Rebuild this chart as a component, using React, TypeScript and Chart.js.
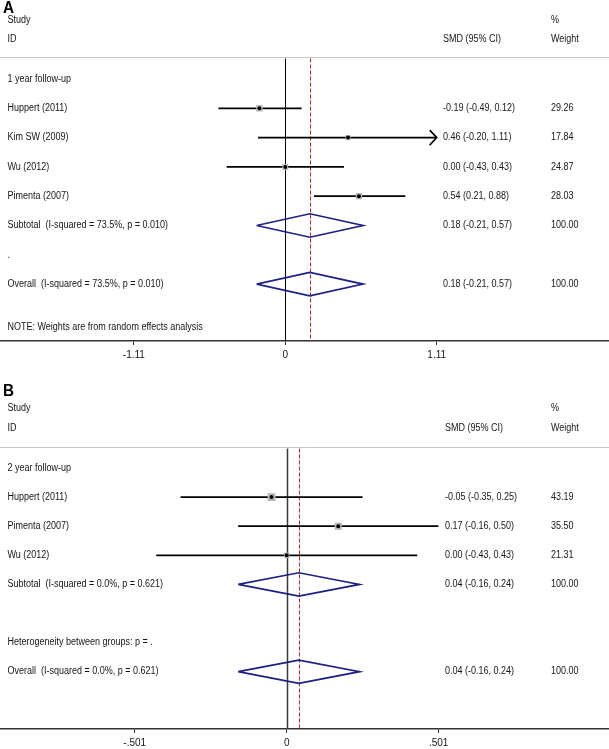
import React, { useEffect, useRef } from "react";
import { Chart, registerables } from "chart.js";

Chart.register(...registerables);

// ---------------- Panel A : 1 year follow-up ----------------
const rowLabelsA = [
  "1 year follow-up",
  "Huppert (2011)",
  "Kim SW (2009)",
  "Wu (2012)",
  "Pimenta (2007)",
  "Subtotal  (I-squared = 73.5%, p = 0.010)",
  ".",
  "Overall  (I-squared = 73.5%, p = 0.010)",
];
const studiesA = ["Huppert (2011)", "Kim SW (2009)", "Wu (2012)", "Pimenta (2007)"];
const smdA = [-0.19, 0.46, 0.0, 0.54];
const lowerA = [-0.49, -0.2, -0.43, 0.21];
const upperA = [0.12, 1.11, 0.43, 0.88];
const weightA = [29.26, 17.84, 24.87, 28.03];
const arrowA = [false, true, false, false];
// [estimate, lower, upper, weight]
const subtotalA = [0.18, -0.21, 0.57, 100.0];
const overallA = [0.18, -0.21, 0.57, 100.0];
const ticksA = [-1.11, 0, 1.11];
const tickLabelsA = ["-1.11", "0", "1.11"];
const noteA = "NOTE: Weights are from random effects analysis";

// ---------------- Panel B : 2 year follow-up ----------------
const rowLabelsB = [
  "2 year follow-up",
  "Huppert (2011)",
  "Pimenta (2007)",
  "Wu (2012)",
  "Subtotal  (I-squared = 0.0%, p = 0.621)",
  "",
  "Heterogeneity between groups: p = .",
  "Overall  (I-squared = 0.0%, p = 0.621)",
];
const studiesB = ["Huppert (2011)", "Pimenta (2007)", "Wu (2012)"];
const smdB = [-0.05, 0.17, 0.0];
const lowerB = [-0.35, -0.16, -0.43];
const upperB = [0.25, 0.5, 0.43];
const weightB = [43.19, 35.5, 21.31];
const arrowB = [false, false, false];
const subtotalB = [0.04, -0.16, 0.24, 100.0];
const overallB = [0.04, -0.16, 0.24, 100.0];
const ticksB = [-0.501, 0, 0.501];
const tickLabelsB = ["-.501", "0", ".501"];
const noteB = "";

const headerStudy = "Study";
const headerID = "ID";
const headerSMD = "SMD (95% CI)";
const headerPct = "%";
const headerWeight = "Weight";

type PanelData = {
  letter: string;
  rowLabels: string[];
  studies: string[];
  smd: number[];
  lower: number[];
  upper: number[];
  weight: number[];
  arrow: boolean[];
  subtotal: number[];
  overall: number[];
  ticks: number[];
  tickLabels: string[];
  note: string;
};

type Layout = {
  top: number;
  height: number;
  axisY: number;
  row0: number;
  rowStep: number;
  xMin: number;
  xMax: number;
  letterBase: number;
  studyRow: number;
  idRow: number;
  sepRow: number;
  noteRow: number;
  smdX: number;
  weightX: number;
  zeroColor: string;
  zeroWidth: number;
};

const FONT = '"Liberation Sans", Arial, Helvetica, sans-serif';
const TEXT_COLOR = "#151515";
const DIAMOND_COLOR = "#1e2085";
const DASH_COLOR = "#a52a2a";

const fmt = (v: number) => v.toFixed(2);

function drawText(ctx: CanvasRenderingContext2D, s: string, x: number, y: number) {
  ctx.save();
  ctx.translate(x, y);
  ctx.scale(0.9, 1);
  ctx.fillText(s, 0, 0);
  ctx.restore();
}

function buildConfig(p: PanelData, L: Layout): any {
  const rowOf = (label: string) => p.rowLabels.indexOf(label);
  const studyRows = p.studies.map(rowOf);
  const subRow = p.rowLabels.findIndex((s) => s.startsWith("Subtotal"));
  const ovRow = p.rowLabels.findIndex((s) => s.startsWith("Overall"));
  const DH = 0.4;
  const diamond = (v: number[], r: number) => [
    { x: v[1], y: r },
    { x: v[0], y: r - DH },
    { x: v[2], y: r },
    { x: v[0], y: r + DH },
    { x: v[1], y: r },
  ];

  const datasets: any[] = [
    {
      data: p.smd.map((v, i) => ({ x: v, y: studyRows[i] })),
      pointStyle: "circle",
      pointRadius: 2,
      backgroundColor: "#000",
      borderWidth: 0,
    },
    {
      data: p.smd.map((v, i) => ({ x: v, y: studyRows[i] })),
      pointStyle: "rect",
      pointRadius: (c: any) => Math.sqrt(p.weight[c.dataIndex]) * 0.85,
      backgroundColor: "#b8b8b8",
      borderWidth: 0,
    },
    ...p.smd.map((_, i) => ({
      data: [
        { x: p.lower[i], y: studyRows[i] },
        { x: p.upper[i], y: studyRows[i] },
      ],
      showLine: true,
      borderColor: "#000",
      borderWidth: 1.7,
      pointRadius: 0,
    })),
    {
      data: diamond(p.subtotal, subRow),
      showLine: true,
      borderColor: DIAMOND_COLOR,
      borderWidth: 1.7,
      pointRadius: 0,
      tension: 0,
    },
    {
      data: diamond(p.overall, ovRow),
      showLine: true,
      borderColor: DIAMOND_COLOR,
      borderWidth: 1.7,
      pointRadius: 0,
      tension: 0,
    },
  ];

  const plugin = {
    id: "forest" + p.letter,
    beforeDatasetsDraw(chart: any) {
      const { ctx, chartArea } = chart;
      const x = chart.scales.x;
      const y = chart.scales.y;
      const sepY = Math.round(y.getPixelForValue(L.sepRow)) + 0.5;
      ctx.save();
      ctx.strokeStyle = "#c8c8c8";
      ctx.lineWidth = 1;
      ctx.beginPath();
      ctx.moveTo(0, sepY);
      ctx.lineTo(chart.width, sepY);
      ctx.stroke();

      const x0 = Math.round(x.getPixelForValue(0)) + 0.5;
      ctx.strokeStyle = L.zeroColor;
      ctx.lineWidth = L.zeroWidth;
      ctx.beginPath();
      ctx.moveTo(x0, sepY + 1);
      ctx.lineTo(x0, chartArea.bottom);
      ctx.stroke();

      const xo = Math.round(x.getPixelForValue(p.overall[0])) + 0.5;
      ctx.setLineDash([4, 2]);
      ctx.strokeStyle = DASH_COLOR;
      ctx.lineWidth = 1;
      ctx.beginPath();
      ctx.moveTo(xo, sepY + 1);
      ctx.lineTo(xo, chartArea.bottom);
      ctx.stroke();
      ctx.restore();
    },
    afterDatasetsDraw(chart: any) {
      const { ctx } = chart;
      const x = chart.scales.x;
      const y = chart.scales.y;
      ctx.save();
      // arrows for truncated CIs
      ctx.strokeStyle = "#000";
      ctx.lineWidth = 1.6;
      p.arrow.forEach((a, i) => {
        if (!a) return;
        const tx = x.getPixelForValue(p.upper[i]);
        const ty = y.getPixelForValue(studyRows[i]);
        ctx.beginPath();
        ctx.moveTo(tx - 7, ty - 7.5);
        ctx.lineTo(tx, ty);
        ctx.lineTo(tx - 7, ty + 7.5);
        ctx.stroke();
      });

      // panel letter
      ctx.fillStyle = "#000";
      ctx.textBaseline = "alphabetic";
      ctx.font = `bold 17px ${FONT}`;
      drawText(ctx, p.letter, 3, L.letterBase);

      ctx.font = `10px ${FONT}`;
      ctx.fillStyle = TEXT_COLOR;
      ctx.textBaseline = "middle";
      const labelX = 7.5;
      drawText(ctx, headerStudy, labelX, y.getPixelForValue(L.studyRow));
      drawText(ctx, headerID, labelX, y.getPixelForValue(L.idRow));
      drawText(ctx, headerSMD, L.smdX, y.getPixelForValue(L.idRow));
      drawText(ctx, headerPct, L.weightX, y.getPixelForValue(L.studyRow));
      drawText(ctx, headerWeight, L.weightX, y.getPixelForValue(L.idRow));

      p.rowLabels.forEach((s, r) => {
        if (s) drawText(ctx, s, labelX, y.getPixelForValue(r));
      });
      p.smd.forEach((v, i) => {
        const py = y.getPixelForValue(studyRows[i]);
        drawText(ctx, `${fmt(v)} (${fmt(p.lower[i])}, ${fmt(p.upper[i])})`, L.smdX, py);
        drawText(ctx, fmt(p.weight[i]), L.weightX, py);
      });
      [
        [p.subtotal, subRow],
        [p.overall, ovRow],
      ].forEach(([v, r]: any) => {
        const py = y.getPixelForValue(r);
        drawText(ctx, `${fmt(v[0])} (${fmt(v[1])}, ${fmt(v[2])})`, L.smdX, py);
        drawText(ctx, fmt(v[3]), L.weightX, py);
      });
      if (p.note) drawText(ctx, p.note, labelX, y.getPixelForValue(L.noteRow));
      ctx.restore();
    },
  };

  return {
    type: "scatter",
    data: { datasets },
    options: {
      responsive: false,
      animation: false,
      events: [],
      layout: { padding: 0, autoPadding: false },
      plugins: { legend: { display: false }, tooltip: { enabled: false } },
      scales: {
        x: {
          type: "linear",
          min: L.xMin,
          max: L.xMax,
          afterBuildTicks: (scale: any) => {
            scale.ticks = p.ticks.map((v) => ({ value: v }));
          },
          afterFit: (scale: any) => {
            scale.height = L.height - L.axisY;
          },
          ticks: {
            padding: 4.5,
            color: TEXT_COLOR,
            font: { family: FONT, size: 10 },
            maxRotation: 0,
            autoSkip: false,
            callback: (_v: any, i: number) => p.tickLabels[i],
          },
          grid: {
            display: true,
            drawOnChartArea: false,
            drawTicks: true,
            tickLength: 4,
            color: "#333",
            lineWidth: 1,
          },
          border: { display: true, color: "#333", width: 1.5 },
        },
        y: {
          type: "linear",
          display: false,
          reverse: true,
          min: -L.row0 / L.rowStep,
          max: (L.axisY - L.row0) / L.rowStep,
        },
      },
    },
    plugins: [plugin],
  };
}

const panelA: PanelData = {
  letter: "A",
  rowLabels: rowLabelsA,
  studies: studiesA,
  smd: smdA,
  lower: lowerA,
  upper: upperA,
  weight: weightA,
  arrow: arrowA,
  subtotal: subtotalA,
  overall: overallA,
  ticks: ticksA,
  tickLabels: tickLabelsA,
  note: noteA,
};

const panelB: PanelData = {
  letter: "B",
  rowLabels: rowLabelsB,
  studies: studiesB,
  smd: smdB,
  lower: lowerB,
  upper: upperB,
  weight: weightB,
  arrow: arrowB,
  subtotal: subtotalB,
  overall: overallB,
  ticks: ticksB,
  tickLabels: tickLabelsB,
  note: noteB,
};

const layoutA: Layout = {
  top: 0,
  height: 380,
  axisY: 341,
  row0: 79,
  rowStep: 29.3,
  xMin: -285.3 / 136.4,
  xMax: (609 - 285.3) / 136.4,
  letterBase: 13,
  studyRow: -2.0,
  idRow: -1.36,
  sepRow: -0.75,
  noteRow: 8.47,
  smdX: 443,
  weightX: 551,
  zeroColor: "#000",
  zeroWidth: 1,
};

const layoutB: Layout = {
  top: 380,
  height: 369,
  axisY: 349,
  row0: 88,
  rowStep: 29.1,
  xMin: -286.7 / 303.4,
  xMax: (609 - 286.7) / 303.4,
  letterBase: 16,
  studyRow: -2.07,
  idRow: -1.38,
  sepRow: -0.72,
  noteRow: 8.46,
  smdX: 445,
  weightX: 551,
  zeroColor: "#3a3a3a",
  zeroWidth: 1.5,
};

function Panel({ data, layout }: { data: PanelData; layout: Layout }) {
  const ref = useRef<HTMLCanvasElement>(null);
  useEffect(() => {
    if (!ref.current) return;
    const chart = new Chart(ref.current, buildConfig(data, layout));
    return () => chart.destroy();
  }, [data, layout]);
  return (
    <canvas
      ref={ref}
      width={609}
      height={layout.height}
      style={{ position: "absolute", left: 0, top: layout.top, width: 609, height: layout.height }}
    />
  );
}

export default function App() {
  return (
    <div
      style={{
        position: "absolute",
        left: 0,
        top: 0,
        width: 609,
        height: 749,
        background: "#fff",
        overflow: "hidden",
      }}
    >
      <Panel data={panelA} layout={layoutA} />
      <Panel data={panelB} layout={layoutB} />
    </div>
  );
}
